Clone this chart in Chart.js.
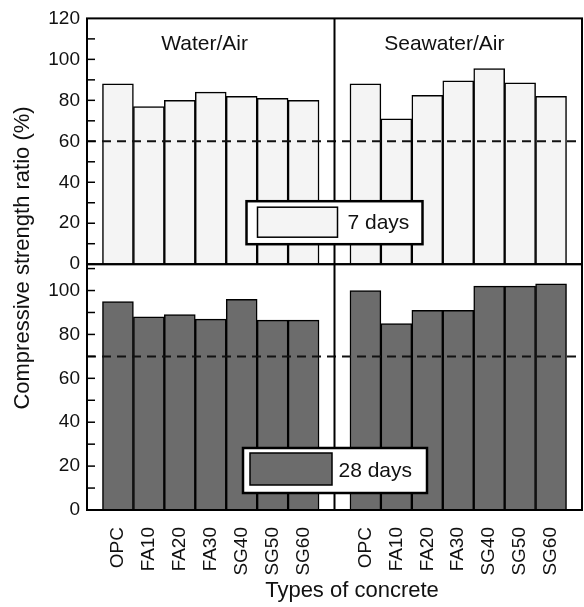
<!DOCTYPE html>
<html>
<head>
<meta charset="utf-8">
<script src="https://cdn.jsdelivr.net/npm/chart.js@4.4.1/dist/chart.umd.min.js"></script>
<style>
  html, body { margin: 0; padding: 0; background: #fff; }
</style>
</head>
<body>
<canvas id="chart" width="584" height="607"></canvas>
<script>
const concreteTypes = ['OPC', 'FA10', 'FA20', 'FA30', 'SG40', 'SG50', 'SG60'];
const panelNames = ['Water/Air', 'Seawater/Air'];
// upper panel, 7 days
const water7 = [88, 77, 80, 84, 82, 81, 80];
const sea7 = [88, 71, 82.5, 89.5, 95.5, 88.5, 82];
// lower panel, 28 days
const water28 = [95, 88, 89, 87, 96, 86.5, 86.5];
const sea28 = [100, 85, 91, 91, 102, 102, 103];
const topTicks = [0, 20, 40, 60, 80, 100, 120];
const bottomTicks = [0, 20, 40, 60, 80, 100];
const limit7 = 60;
const limit28 = 70;

const FONT = '"Liberation Sans", Arial, sans-serif';
const gap = concreteTypes.length + 1; // right panel starts one slot after the left one
const toPoints = (left, right) =>
  left.map((v, i) => ({ x: i, y: v })).concat(right.map((v, i) => ({ x: i + gap, y: v })));
const xPositions = concreteTypes.map((_, i) => i).concat(concreteTypes.map((_, i) => i + gap));

function drawLegend(ctx, mid, bottom, o, fill, label) {
  ctx.fillStyle = '#fff';
  ctx.fillRect(mid + o.l, bottom + o.t, o.r - o.l, o.b - o.t);
  ctx.lineWidth = 2.5;
  ctx.strokeStyle = '#000';
  ctx.strokeRect(mid + o.l, bottom + o.t, o.r - o.l, o.b - o.t);
  ctx.fillStyle = fill;
  ctx.fillRect(mid + o.sl, bottom + o.st, o.sr - o.sl, o.sb - o.st);
  ctx.lineWidth = 1.5;
  ctx.strokeRect(mid + o.sl, bottom + o.st, o.sr - o.sl, o.sb - o.st);
  ctx.fillStyle = '#111';
  ctx.font = '21px ' + FONT;
  ctx.textAlign = 'left';
  ctx.textBaseline = 'middle';
  ctx.fillText(label, mid + o.tx, bottom + (o.t + o.b) / 2 + 1);
}

const panelDecor = {
  id: 'panelDecor',
  afterDatasetsDraw(chart) {
    const { ctx, chartArea: a, scales: { x, yTop, yBot } } = chart;
    ctx.save();

    // reference limits
    ctx.setLineDash([9, 6]);
    ctx.lineWidth = 2;
    ctx.strokeStyle = '#111';
    [[yTop, limit7], [yBot, limit28]].forEach(([s, v]) => {
      const py = s.getPixelForValue(v);
      ctx.beginPath(); ctx.moveTo(a.left, py); ctx.lineTo(a.right, py); ctx.stroke();
    });
    ctx.setLineDash([]);

    // frames + divider
    ctx.strokeStyle = '#000';
    ctx.lineWidth = 2;
    [yTop, yBot].forEach(s => ctx.strokeRect(a.left, s.top, a.right - a.left, s.bottom - s.top));
    const mid = x.getPixelForValue(gap - 1);
    ctx.beginPath(); ctx.moveTo(mid, a.top); ctx.lineTo(mid, a.bottom); ctx.stroke();

    // inward tick marks every 10
    ctx.lineWidth = 1.5;
    [yTop, yBot].forEach(s => {
      for (let v = 0; v < s.max; v += 10) {
        const py = s.getPixelForValue(v);
        ctx.beginPath(); ctx.moveTo(a.left, py); ctx.lineTo(a.left + 8, py); ctx.stroke();
      }
    });

    // panel names
    ctx.fillStyle = '#111';
    ctx.font = '21px ' + FONT;
    ctx.textAlign = 'center';
    ctx.textBaseline = 'middle';
    [2.8, 10.55].forEach((xv, k) => ctx.fillText(panelNames[k], x.getPixelForValue(xv), yTop.getPixelForValue(107.5)));

    // legends
    drawLegend(ctx, mid, yTop.bottom,
      { l: -88, r: 88, t: -63, b: -20, sl: -77, sr: 3, st: -57, sb: -27, tx: 13 }, '#f4f4f4', '7 days');
    drawLegend(ctx, mid, yBot.bottom,
      { l: -91.5, r: 92.5, t: -62, b: -17, sl: -84.5, sr: -2.5, st: -57, sb: -25, tx: 4 }, '#6c6c6c', '28 days');

    // axis titles
    ctx.fillStyle = '#111';
    ctx.font = '22px ' + FONT;
    ctx.textAlign = 'center';
    ctx.textBaseline = 'middle';
    ctx.fillText('Types of concrete', 352, 591);
    ctx.translate(23, 258);
    ctx.rotate(-Math.PI / 2);
    ctx.fillText('Compressive strength ratio (%)', 0, 0);
    ctx.restore();
  }
};

const yAxis = (max, ticks) => ({
  type: 'linear',
  position: 'left',
  stack: 'panels',
  stackWeight: 1,
  min: 0,
  max: max,
  afterBuildTicks: s => { s.ticks = ticks.map(v => ({ value: v })); },
  afterFit: s => { s.width = 87; },
  grid: { display: false, drawTicks: false },
  border: { display: false },
  ticks: { autoSkip: false, color: '#111', padding: 7, font: { family: FONT, size: 19 } }
});

new Chart(document.getElementById('chart'), {
  type: 'bar',
  data: {
    datasets: [
      {
        label: '7 days',
        data: toPoints(water7, sea7),
        yAxisID: 'yTop',
        backgroundColor: '#f4f4f4',
        borderColor: '#000',
        borderWidth: 1.5
      },
      {
        label: '28 days',
        data: toPoints(water28, sea28),
        yAxisID: 'yBot',
        backgroundColor: '#6c6c6c',
        borderColor: '#000',
        borderWidth: 1.5
      }
    ]
  },
  options: {
    responsive: false,
    animation: false,
    layout: { padding: { top: 16, right: 2, left: 0, bottom: 0 } },
    datasets: { bar: { grouped: false, barPercentage: 1, categoryPercentage: 1 } },
    plugins: { legend: { display: false }, tooltip: { enabled: false } },
    scales: {
      x: {
        type: 'linear',
        offset: false,
        min: -1,
        max: 2 * gap - 1,
        afterBuildTicks: s => { s.ticks = xPositions.map(v => ({ value: v })); },
        afterFit: s => { s.height = 97; s.paddingLeft = 0; s.paddingRight = 0; },
        grid: { display: false, drawTicks: false },
        border: { display: false },
        ticks: {
          autoSkip: false,
          minRotation: 90,
          maxRotation: 90,
          padding: 17,
          color: '#111',
          font: { family: FONT, size: 19 },
          callback: v => concreteTypes[v % gap]
        }
      },
      // stacked axes are laid out bottom-first, so the lower panel is listed first
      yBot: yAxis(112, bottomTicks),
      yTop: yAxis(120, topTicks)
    }
  },
  plugins: [panelDecor]
});
</script>
</body>
</html>
